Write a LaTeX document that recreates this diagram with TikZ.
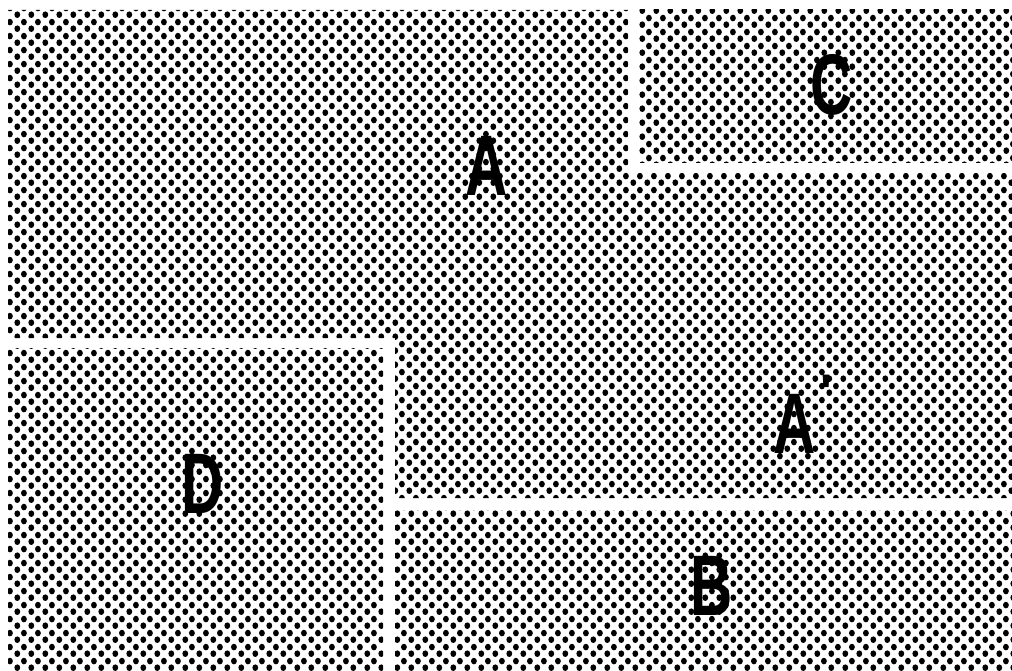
\documentclass[tikz,border=0pt]{standalone}
\usepackage{fontspec}
\setmainfont{Liberation Sans}
\usetikzlibrary{patterns}
\pgfdeclarepatternformonly{halftone}{\pgfpointorigin}{\pgfpoint{13.6pt}{13.6pt}}{\pgfpoint{13.6pt}{13.6pt}}{%
  \pgfpathellipse{\pgfpoint{3.4pt}{3.4pt}}{\pgfpoint{3.0pt}{0pt}}{\pgfpoint{0pt}{3.4pt}}%
  \pgfpathellipse{\pgfpoint{10.2pt}{10.2pt}}{\pgfpoint{3.0pt}{0pt}}{\pgfpoint{0pt}{3.4pt}}%
  \pgfusepath{fill}}
\begin{document}
\begin{tikzpicture}[x=1pt,y=-1pt,
  region/.style={pattern=halftone, pattern color=black},
  lab/.style={font=\fontsize{86}{86}\selectfont\bfseries, xscale=0.68, inner sep=0pt, text=black}]
\useasboundingbox (0,0) rectangle (1012,671);
\fill[white] (0,0) rectangle (1012,671);
% region A (L-shaped)
\fill[region] (8,10) -- (628,10) -- (628,173) -- (1012,173) -- (1012,498) -- (395,498) -- (395,338) -- (8,338) -- cycle;
% region C
\fill[region] (638,10) rectangle (1012,163);
% region D
\fill[region] (8,348) rectangle (383,671);
% region B
\fill[region] (395,510) rectangle (1012,671);
% labels
\node[lab] (a) at (487,166) {A};
\node[lab] (c) at (832,85) {C};
\node[lab] (d) at (203,484) {D};
\node[lab] (b) at (712,586) {B};
\node[lab] (ap) at (795,424) {A};
\node[font=\fontsize{50}{50}\selectfont\bfseries, inner sep=0pt] (prime) at (826,392) {\textquotesingle};
\end{tikzpicture}
\end{document}
